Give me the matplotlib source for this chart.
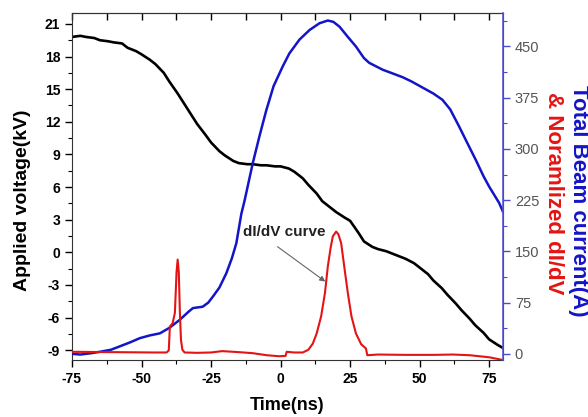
import matplotlib
matplotlib.use("Agg")
import matplotlib.pyplot as plt
from matplotlib.ticker import MultipleLocator

plt.rcParams["font.family"] = ["Liberation Sans", "DejaVu Sans"]
plt.rcParams["axes.unicode_minus"] = False

# ---- data ----
t_volt = [-75, -72, -70, -67, -65, -62, -60, -57, -55, -52, -50, -47, -45, -42, -40, -37, -35,
          -32, -30, -27, -25, -22, -20, -17, -15, -12, -10, -7, -5, -2, 0, 3, 5, 8, 10, 13, 15,
          18, 20, 23, 25, 28, 30, 33, 35, 38, 40, 43, 45, 48, 50, 53, 55, 58, 60, 63, 65, 68,
          70, 73, 75, 78, 80]
voltage = [19.8, 19.9, 19.8, 19.7, 19.5, 19.4, 19.3, 19.2, 18.8, 18.5, 18.2, 17.7, 17.3, 16.5,
           15.7, 14.6, 13.8, 12.6, 11.8, 10.8, 10.1, 9.3, 8.9, 8.4, 8.2, 8.1, 8.1, 8.0, 8.0,
           7.9, 7.9, 7.7, 7.4, 6.8, 6.2, 5.4, 4.7, 4.1, 3.7, 3.2, 2.9, 1.8, 1.0, 0.5, 0.3, 0.1,
           -0.1, -0.4, -0.6, -1.0, -1.4, -2.0, -2.6, -3.3, -3.9, -4.7, -5.3, -6.1, -6.7,
           -7.4, -8.0, -8.5, -8.8]

t_curr = [-75, -72, -68, -65, -61, -57.8, -54, -50.6, -47, -43.4, -40, -36.2, -33, -31.5, -28,
          -26, -24.3, -22, -19.5, -17.5, -15.9, -14.1, -12.9, -10, -7.5, -5.1, -2.5, 0.8, 3.2,
          6.8, 10.4, 14, 17, 19, 21.2, 24, 27.1, 30, 31.9, 36.7, 40, 43.9, 47, 51, 55, 58.2,
          61, 64.2, 67, 70.2, 73, 75, 78.6, 80]
current = [0, -1, 1, 3, 6, 11, 17, 23, 27, 30, 38, 50, 62, 67, 69, 75, 84, 97, 118, 140, 162,
           205, 225, 279, 320, 357, 392, 421, 440, 460, 474, 484, 488, 486, 479, 465, 450, 433,
           426, 416, 411, 405, 399, 390, 381, 372, 358, 333, 310, 284, 260, 245, 221, 208]

t_didv = [-75, -60, -45, -41, -40.2, -39.8, -38.8, -38, -37.4, -37, -36.6, -36.2, -35.8, -35.3,
          -34.5, -30, -25, -21, -15, -10, -5, -0.5, 1.8, 2.2, 5, 8, 10, 11.6, 13, 14.6, 16, 17,
          18, 18.8, 20, 20.8, 21.8, 23, 24.2, 25.5, 27.1, 29, 30.7, 31.2, 35, 45, 55, 62, 68,
          75, 80]
didv = [3, 2.5, 2, 2, 5, 40, 45, 60, 120, 138, 120, 60, 20, 6, 2, 1.5, 2, 4, 2.5, 1, -2, -3.5,
        -3, 3, 2, 2, 6, 15, 30, 55, 90, 128, 155, 172, 179, 175, 162, 125, 89, 55, 30, 14, 8,
        -2, -1, -1.5, -1.5, -1, -2, -5, -9]

x_ticks = [-75, -50, -25, 0, 25, 50, 75]
left_ticks = [-9, -6, -3, 0, 3, 6, 9, 12, 15, 18, 21]
right_ticks = [0, 75, 150, 225, 300, 375, 450]

BLUE = "#1414c8"
RED = "#e41414"

fig = plt.figure(figsize=(5.88, 4.17), dpi=100)
ax = fig.add_axes([72 / 588, 1 - 360 / 417, (503 - 72) / 588, (360 - 13) / 417])
ax2 = ax.twinx()

ax.plot(t_volt, voltage, color="black", lw=1.9)
ax2.plot(t_curr, current, color=BLUE, lw=1.8)
ax2.plot(t_didv, didv, color=RED, lw=1.5)

ax.set_xlim(-75, 80)
ax.set_ylim(-9.9, 22.0)
ax2.set_ylim(-9, 499)

ax.set_xticks(x_ticks)
ax.set_yticks(left_ticks)
ax.xaxis.set_minor_locator(MultipleLocator(12.5))
ax.yaxis.set_minor_locator(MultipleLocator(1.5))
ax2.set_yticks(right_ticks)
ax2.yaxis.set_minor_locator(MultipleLocator(37.5))

ax.tick_params(axis="x", which="major", direction="out", length=5, labelsize=10, width=1.0)
ax.tick_params(axis="x", which="minor", direction="out", length=3, width=0.8)
ax.tick_params(axis="y", which="major", direction="out", length=5, labelsize=10, width=1.0)
ax.tick_params(axis="y", which="minor", direction="out", length=3, width=0.8)
for lab in ax.get_xticklabels() + ax.get_yticklabels():
    lab.set_fontweight("bold")

# inward ticks on the top spine
secx = ax.secondary_xaxis("top")
secx.set_xticks(x_ticks)
secx.xaxis.set_minor_locator(MultipleLocator(12.5))
secx.tick_params(axis="x", which="both", direction="in", labeltop=False, length=5, width=1.0)
secx.spines["top"].set_color("#333333")

ax2.tick_params(axis="y", which="major", direction="out", length=5, colors="#4a4ad0",
                labelcolor="#555555", labelsize=10.5, width=1.0)
ax2.tick_params(axis="y", which="minor", direction="out", length=3, colors="#4a4ad0", width=0.8)

for s in ["left", "bottom", "top"]:
    ax.spines[s].set_color("#333333")
ax2.spines["right"].set_color("#5a5ad8")
ax2.spines["right"].set_linewidth(1.2)
for s in ["left", "bottom", "top"]:
    ax2.spines[s].set_visible(False)

ax.set_xlabel("Time(ns)", fontsize=13, fontweight="bold", labelpad=8)
ax.set_ylabel("Applied voltage(kV)", fontsize=14, fontweight="bold")
ax.yaxis.set_label_coords(-0.095, 0.461)

fig.text(578 / 588, 1 - 201 / 417, "Total Beam current(A)", color=BLUE, fontsize=16,
         fontweight="bold", rotation=270, ha="center", va="center")
fig.text(553 / 588, 1 - 193 / 417, "& Noramlized dI/dV", color=RED, fontsize=16,
         fontweight="bold", rotation=270, ha="center", va="center")

ax.text(1.4, 1.9, "dI/dV curve", fontsize=11, fontweight="bold", ha="center", va="center",
        color="#222222")
ax.annotate("", xy=(16.1, -2.69), xytext=(-1.1, 0.52),
            arrowprops=dict(arrowstyle="-|>", color="#666666", lw=0.8, mutation_scale=8,
                            shrinkA=0, shrinkB=0))

fig.savefig("out.png", dpi=100)
